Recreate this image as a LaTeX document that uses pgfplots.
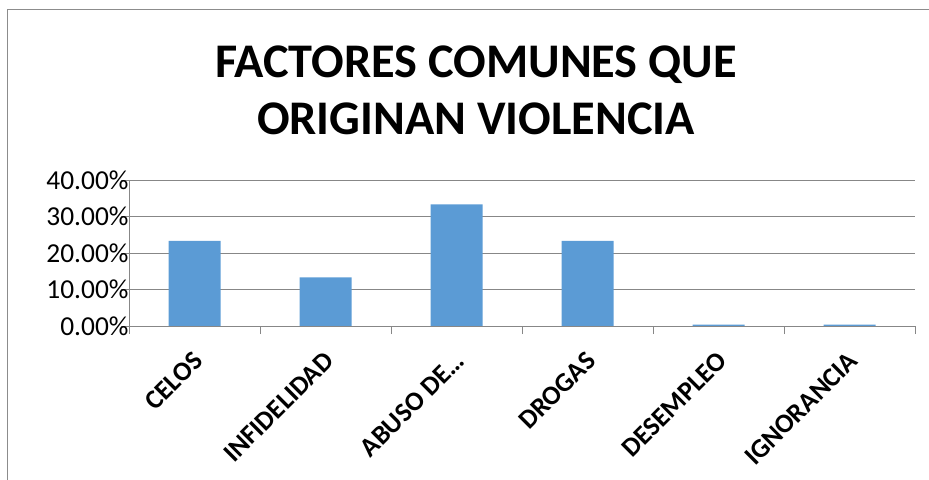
\documentclass[border=0pt]{standalone}
\usepackage{fontspec}
\setmainfont{Carlito}
\usepackage{pgfplots}
\pgfplotsset{compat=1.18}
\definecolor{barblue}{HTML}{5B9BD5}
\definecolor{gridgray}{HTML}{878787}
\definecolor{framegray}{HTML}{8C8C8C}
\begin{document}
\begin{tikzpicture}
\useasboundingbox (0,0) rectangle (929bp,480bp);
\draw[framegray, line width=1.5bp] (7.5bp,0) -- (7.5bp,470.5bp) -- (929bp,470.5bp);
\node[font=\fontsize{48.5}{57}\selectfont\bfseries, anchor=base] at (476bp,402bp) {FACTORES COMUNES QUE};
\node[font=\fontsize{48.5}{57}\selectfont\bfseries, anchor=base] at (476bp,345bp) {ORIGINAN VIOLENCIA};
\begin{axis}[
  at={(129bp,154bp)}, anchor=south west,
  scale only axis, width=786bp, height=146bp,
  xmin=-0.5, xmax=5.5, ymin=0, ymax=40,
  ytick={0,10,20,30,40},
  xtick={0,1,2,3,4,5},
  xticklabels={CELOS,INFIDELIDAD,ABUSO DE…,DROGAS,DESEMPLEO,IGNORANCIA},
  minor xtick={-0.5,0.5,1.5,2.5,3.5,4.5,5.5},
  major x tick style={draw=none},
  ymajorgrids,
  grid style={gridgray, line width=1bp},
  axis x line*=bottom, axis y line*=left,
  axis line style={gridgray, line width=1bp, -},
  tick style={gridgray, line width=1bp},
  tick align=outside,
  major tick length=8bp, minor tick length=8bp,
  yticklabel={\pgfmathprintnumber[fixed,fixed zerofill,precision=2,assume math mode=true]{\tick}\%},
  yticklabel style={font=\fontsize{27.5}{30}\selectfont, text=black, xshift=11bp},
  xticklabel style={xshift=6bp, yshift=-20bp, font=\fontsize{27}{30}\selectfont\bfseries, rotate=45, anchor=east, text=black},
]
\addplot[ybar, bar width=52bp, fill=barblue, draw=none] coordinates {
  (0,23.33) (1,13.33) (2,33.33) (3,23.33) (4,0.35) (5,0.35)
};
\end{axis}
\end{tikzpicture}
\end{document}
